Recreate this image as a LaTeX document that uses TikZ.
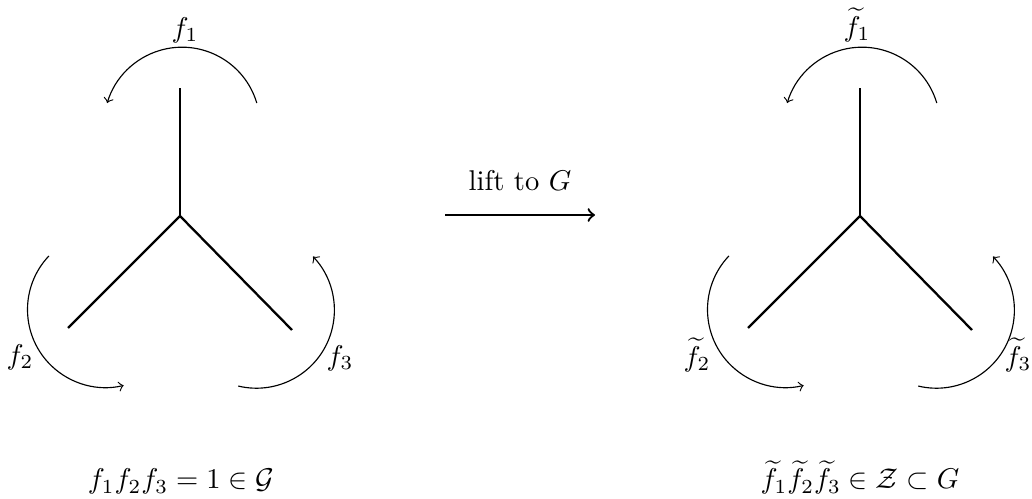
\documentclass[tikz,border=0pt]{standalone}
\usepackage{amsmath,amssymb}
\begin{document}
\begin{tikzpicture}[x=0.35pt,y=0.35pt,
  arm/.style={line width=0.8pt},
  turn/.style={->,line width=0.4pt},
  lbl/.style={inner sep=0pt}]
\useasboundingbox (0,0) rectangle (1032,-499);
% ---------- left diagram ----------
\coordinate (O1) at (180,-216);
\coordinate (T1) at (180,-88);
\coordinate (L1) at (68,-328);
\coordinate (R1) at (292,-330);
\draw[arm] (O1) -- (T1);
\draw[arm] (O1) -- (L1);
\draw[arm] (O1) -- (R1);
\coordinate (ca1) at (182,-125.2);
\coordinate (cb1) at (105.5,-309.6);
\coordinate (cc1) at (256.4,-310.2);
\draw[turn] (ca1) ++(16.5:78) arc[start angle=16.5,end angle=163.5,radius=78];
\draw[turn] (cb1) ++(136.5:78) arc[start angle=136.5,end angle=283.5,radius=78];
\draw[turn] (cc1) ++(256.5:78) arc[start angle=256.5,end angle=403.5,radius=78];
\node[lbl] (fa) at (185,-30) {$f_1$};
\node[lbl] (fb) at (20,-357) {$f_2$};
\node[lbl] (fc) at (340,-358) {$f_3$};
\node[lbl,anchor=base] (eq1) at (181,-489) {$f_1f_2f_3=1\in\mathcal{G}$};
% ---------- middle arrow ----------
\coordinate (ms) at (445,-215);
\coordinate (me) at (595,-215);
\draw[->,line width=0.8pt] (ms) -- node[above=8pt,lbl] (lift) {lift to $G$} (me);
% ---------- right diagram ----------
\coordinate (O2) at (860,-216);
\coordinate (T2) at (860,-88);
\coordinate (L2) at (748,-328);
\coordinate (R2) at (972,-330);
\draw[arm] (O2) -- (T2);
\draw[arm] (O2) -- (L2);
\draw[arm] (O2) -- (R2);
\coordinate (ca2) at (862,-125.2);
\coordinate (cb2) at (785.5,-309.6);
\coordinate (cc2) at (936.4,-310.2);
\draw[turn] (ca2) ++(16.5:78) arc[start angle=16.5,end angle=163.5,radius=78];
\draw[turn] (cb2) ++(136.5:78) arc[start angle=136.5,end angle=283.5,radius=78];
\draw[turn] (cc2) ++(256.5:78) arc[start angle=256.5,end angle=403.5,radius=78];
\node[lbl] (ga) at (857,-25) {$\widetilde{f}_1$};
\node[lbl] (gb) at (697,-355) {$\widetilde{f}_2$};
\node[lbl] (gc) at (1018,-355) {$\widetilde{f}_3$};
\node[lbl,anchor=base] (eq2) at (860,-489) {$\widetilde{f}_1\widetilde{f}_2\widetilde{f}_3\in\mathcal{Z}\subset G$};
\end{tikzpicture}
\end{document}
